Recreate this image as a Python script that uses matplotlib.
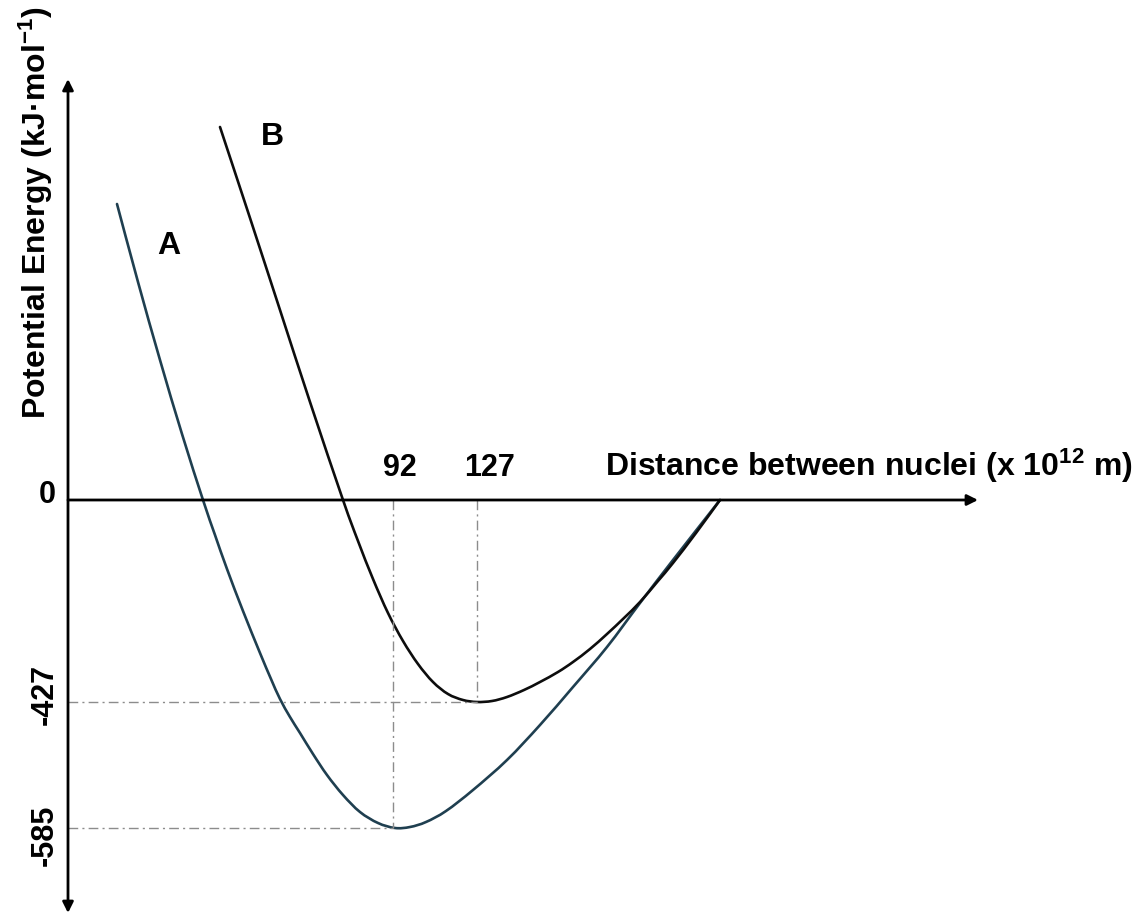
import matplotlib
matplotlib.use("Agg")
import matplotlib.pyplot as plt
import numpy as np
from matplotlib.path import Path
from matplotlib.patches import PathPatch

plt.rcParams['font.family'] = ['Liberation Sans', 'DejaVu Sans']
plt.rcParams['mathtext.fontset'] = 'custom'
plt.rcParams['mathtext.rm'] = 'Liberation Sans:bold'
plt.rcParams['mathtext.bf'] = 'Liberation Sans:bold'
plt.rcParams['mathtext.it'] = 'Liberation Sans:bold'

# ---- data (schematic units: x = separation, y = energy) ----
curve_a_x = [49, 70, 92, 114, 135, 147, 159, 175, 192, 203, 212, 222, 232, 245, 259,
             275, 292, 310, 327, 342, 358, 378, 405, 439, 472, 505, 539, 572, 605, 652]
curve_a_y = [296, 218, 140, 66, 0, -35, -69, -111, -153, -179, -199, -217, -233, -254,
             -275, -295, -312, -323, -328, -327, -322, -311, -290, -260, -225, -187,
             -147, -103, -60, 0]

curve_b_x = [152, 182, 212, 242, 275, 290, 305, 320, 335, 350, 365, 380, 395, 409,
             424, 439, 456, 472, 490, 505, 522, 539, 556, 572, 590, 605, 628, 652]
curve_b_y = [373, 282, 190, 98, 0, -41, -79, -113, -141, -164, -182, -194, -200, -202,
             -201, -197, -190, -182, -172, -162, -149, -134, -118, -102, -81, -63,
             -33, 0]

curve_labels = ['A', 'B']
curve_label_pos = [(101, 254), (204, 363)]

energy_tick_labels = ['0', '-427', '-585']
energy_tick_pos = [0, -202, -328]
distance_tick_labels = ['92', '127']
distance_tick_pos = [325, 409]

x_title = r'Distance between nuclei (x $10^{12}$ m)'
y_title = r'Potential Energy (kJ·mol$^{-1}$)'


def smooth_path(xs, ys):
    """Catmull-Rom style cubic Bezier path through the given points."""
    p = np.column_stack([xs, ys]).astype(float)
    ext = np.vstack([p[0], p, p[-1]])
    verts = [tuple(p[0])]
    codes = [Path.MOVETO]
    for i in range(1, len(ext) - 2):
        p0, p1, p2, p3 = ext[i - 1], ext[i], ext[i + 1], ext[i + 2]
        c1 = p1 + (p2 - p0) / 6.0
        c2 = p2 - (p3 - p1) / 6.0
        verts += [tuple(c1), tuple(c2), tuple(p2)]
        codes += [Path.CURVE4] * 3
    return Path(verts, codes)


# ---- figure ----
fig = plt.figure(figsize=(11.35, 9.13), dpi=100)
ax = fig.add_axes([0, 0, 1, 1])
ax.set_xlim(-68, 1067)
ax.set_ylim(-413, 500)
ax.axis('off')

guide = dict(color='#8c8c8c', lw=1.0, linestyle=(0, (7, 3, 1.5, 3)))
ax.plot([distance_tick_pos[0]] * 2, [0, energy_tick_pos[2]], **guide)
ax.plot([0, distance_tick_pos[0]], [energy_tick_pos[2]] * 2, **guide)
ax.plot([distance_tick_pos[1]] * 2, [0, energy_tick_pos[1]], **guide)
ax.plot([0, distance_tick_pos[1]], [energy_tick_pos[1]] * 2, **guide)

# axes with arrows
ax.annotate('', xy=(910, 0), xytext=(0, 0),
            arrowprops=dict(arrowstyle='-|>', lw=2.0, color='black',
                            mutation_scale=16, shrinkA=0, shrinkB=0))
ax.annotate('', xy=(0, 421), xytext=(0, -413),
            arrowprops=dict(arrowstyle='<|-|>', lw=2.0, color='black',
                            mutation_scale=16, shrinkA=0, shrinkB=0))

# curves
ax.add_patch(PathPatch(smooth_path(curve_a_x, curve_a_y), facecolor='none',
                       edgecolor='#1f3f50', lw=1.9, capstyle='round'))
ax.add_patch(PathPatch(smooth_path(curve_b_x, curve_b_y), facecolor='none',
                       edgecolor='#0d0d0d', lw=1.9, capstyle='round'))

for lab, (lx, ly) in zip(curve_labels, curve_label_pos):
    ax.text(lx, ly, lab, fontsize=23, fontweight='bold', ha='center', va='center')

# tick labels
ax.text(-21, 5, energy_tick_labels[0], fontsize=22, fontweight='bold',
        ha='center', va='center')
ax.text(-23, -194, energy_tick_labels[1], fontsize=22, fontweight='bold',
        ha='center', va='center', rotation=90)
ax.text(-23, -335, energy_tick_labels[2], fontsize=22, fontweight='bold',
        ha='center', va='center', rotation=90)
ax.text(332, 32, distance_tick_labels[0], fontsize=22, fontweight='bold',
        ha='center', va='center')
ax.text(422, 32, distance_tick_labels[1], fontsize=22, fontweight='bold',
        ha='center', va='center')

ax.text(537, 34, x_title, fontsize=23, fontweight='bold', ha='left', va='center')
ax.text(-32, 287, y_title, fontsize=23, fontweight='bold', ha='center',
        va='center', rotation=90)

fig.savefig('out.png', dpi=100, facecolor='white')
